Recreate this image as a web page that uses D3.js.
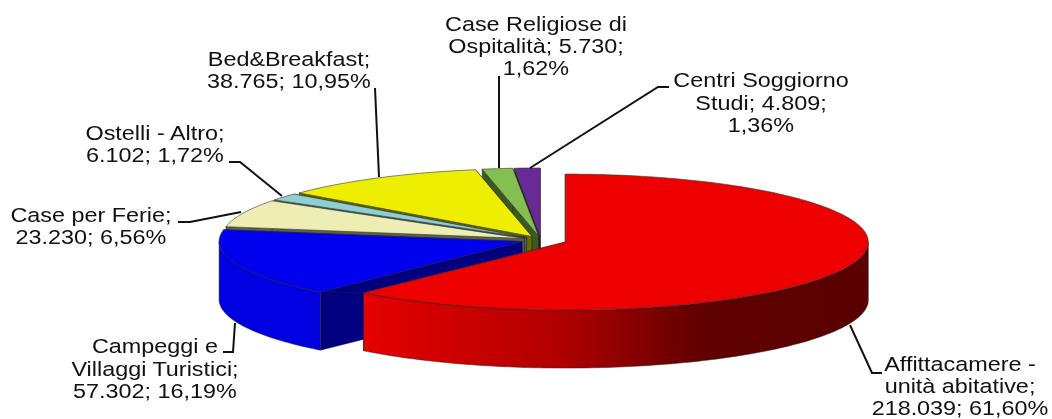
<!DOCTYPE html>
<html>
<head>
<meta charset="utf-8">
<script src="https://d3js.org/d3.v7.min.js"></script>
<style>
    html, body { margin: 0; padding: 0; background: #fff; }
    svg { display: block; filter: blur(0.45px); }
    text { font-family: "Liberation Sans", Arial, sans-serif; font-size: 19.5px; fill: #111; }
</style>
</head>
<body>
<div id="chart"></div>
<script>
// dati
const categories = ["Affittacamere - unità abitative", "Campeggi e Villaggi Turistici", "Case per Ferie", "Ostelli - Altro", "Bed&Breakfast", "Case Religiose di Ospitalità", "Centri Soggiorno Studi"];
const values = [218039, 57302, 23230, 6102, 38765, 5730, 4809];
const labelLines = [
    ["Affittacamere -", "unità abitative;", "218.039; 61,60%"],
    ["Campeggi e", "Villaggi Turistici;", "57.302; 16,19%"],
    ["Case per Ferie;", "23.230; 6,56%"],
    ["Ostelli - Altro;", "6.102; 1,72%"],
    ["Bed&Breakfast;", "38.765; 10,95%"],
    ["Case Religiose di", "Ospitalità; 5.730;", "1,62%"],
    ["Centri Soggiorno", "Studi; 4.809;", "1,36%"]
];

// stile
const topColors = ["#ee0000", "#0000ee", "#eeeeb4", "#8ed0d0", "#eeee00", "#84c050", "#6a2a96"];
const wallColors = ["#5a0000", "#000080", "#5f5f48", "#3f6464", "#6a6a00", "#3a5a20", "#2e1244"];
const sideColors = ["url(#redSide)", "#0000e0", "#b8b88c", "#6ea0a0", "#b8b800", "#668f3c", "#4f2070"];
const explode = [26, 20, 18, 18, 18, 18, 18];

// posizione etichette: [centro x, baseline prima riga, passo righe]
const labelPos = [
    [960, 371, 22],
    [155, 353, 22.5],
    [91, 222, 22],
    [155, 140, 22],
    [289, 66, 22],
    [536, 31, 22],
    [761, 87, 22.5]
];
const leaderLines = [
    [[850, 325], [872, 373], [882, 373]],
    [[235, 323], [233, 352], [223, 352]],
    [[241, 212], [190, 222], [178, 222]],
    [[282, 196], [240, 162], [229, 162]],
    [[379, 177], [375, 88]],
    [[499, 168], [499, 76]],
    [[530, 168], [658, 87], [669, 87]]
];

const width = 1052, height = 419;
const cx = 541, cy = 240, rx = 303, ry = 68, depth = 58;
const deg = Math.PI / 180;

const svg = d3.select("#chart").append("svg")
    .attr("width", width)
    .attr("height", height);

const grad = svg.append("defs").append("linearGradient")
    .attr("id", "redSide")
    .attr("gradientUnits", "userSpaceOnUse")
    .attr("x1", 364).attr("x2", 868).attr("y1", 0).attr("y2", 0);
[[0, "#e60000"], [0.4, "#ae0000"], [0.67, "#600000"], [1, "#5a0000"]].forEach(s => {
    grad.append("stop").attr("offset", s[0]).attr("stop-color", s[1]);
});

const pie = d3.pie().sort(null).value(d => d);
const slices = pie(values);
const line = d3.line();

function centre(s, i) {
    const mid = (s.startAngle + s.endAngle) / 2;
    return [cx + explode[i] * Math.sin(mid), cy - explode[i] * (ry / rx) * Math.cos(mid)];
}

function rimPoints(c, a0, a1, dy) {
    const n = Math.max(2, Math.ceil((a1 - a0) / deg));
    return d3.range(n + 1).map(k => {
        const a = a0 + (a1 - a0) * k / n;
        return [c[0] + rx * Math.sin(a), c[1] - ry * Math.cos(a) + dy];
    });
}

function wall(c, a) {
    const p = rimPoints(c, a, a, 0)[0];
    return line([c, p, [p[0], p[1] + depth], [c[0], c[1] + depth]]) + "Z";
}

// dal fondo verso il davanti
const order = d3.range(slices.length).reverse();
order.forEach(i => {
    const s = slices[i];
    const c = centre(s, i);
    const g = svg.append("g").attr("class", "slice").attr("data-name", categories[i]);

    [s.startAngle, s.endAngle].forEach(a => {
        g.append("path")
            .attr("d", wall(c, a))
            .attr("fill", wallColors[i])
            .attr("stroke", "#222")
            .attr("stroke-width", 0.5);
    });

    // bordo esterno visibile solo nella metà anteriore
    const a0 = Math.max(s.startAngle, Math.PI / 2);
    const a1 = Math.min(s.endAngle, Math.PI * 1.5);
    if (a1 > a0) {
        const pts = rimPoints(c, a0, a1, 0).concat(rimPoints(c, a0, a1, depth).reverse());
        g.append("path")
            .attr("d", line(pts) + "Z")
            .attr("fill", sideColors[i])
            .attr("stroke", "#222")
            .attr("stroke-width", 0.5);
    }

    g.append("path")
        .attr("d", line([c].concat(rimPoints(c, s.startAngle, s.endAngle, 0))) + "Z")
        .attr("fill", topColors[i])
        .attr("stroke", "#333")
        .attr("stroke-width", 0.6);
});

svg.append("g").selectAll("path")
    .data(leaderLines)
    .enter()
    .append("path")
    .attr("d", d => line(d))
    .attr("fill", "none")
    .attr("stroke", "#111")
    .attr("stroke-width", 2);

labelLines.forEach((lines, i) => {
    const pos = labelPos[i];
    lines.forEach((t, k) => {
        svg.append("text")
            .attr("transform", `translate(${pos[0]},${pos[1] + k * pos[2]}) scale(1.2,1)`)
            .attr("text-anchor", "middle")
            .text(t);
    });
});
</script>
</body>
</html>
